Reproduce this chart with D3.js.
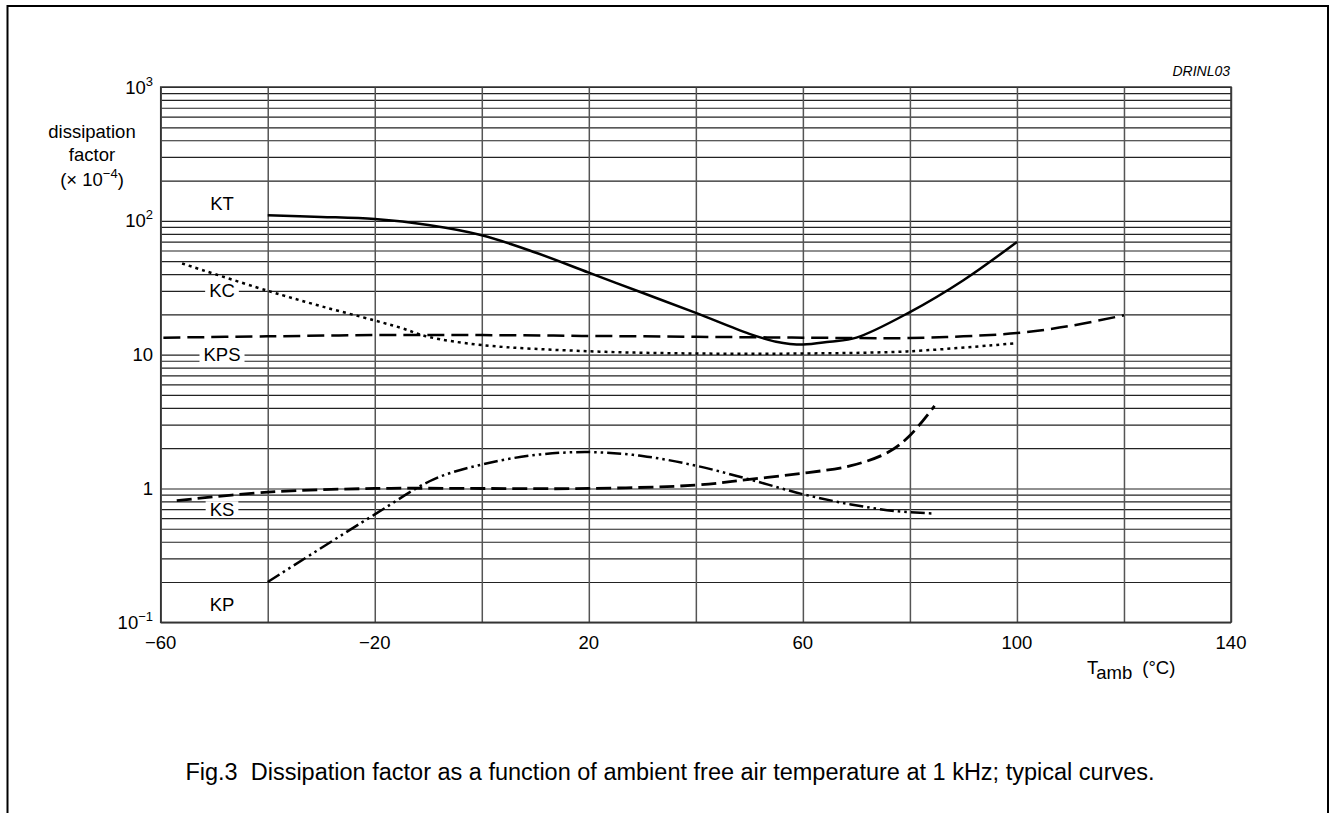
<!DOCTYPE html>
<html>
<head>
<meta charset="utf-8">
<script src="https://cdn.jsdelivr.net/npm/d3@7"></script>
<style>
  body { margin: 0; background: #fff; }
  svg { display: block; font-family: "Liberation Sans", Arial, sans-serif; }
</style>
</head>
<body>
<div id="chart"></div>
<script>
// temperatures (°C) and dissipation factor (x 10^-4)
var ktTemp = [-40, -30, -20, -10, 0, 10, 20, 30, 40, 50, 55, 60, 65, 70, 80, 90, 100];
var ktVal  = [110, 107, 103, 93, 78, 58, 41, 29, 20.5, 14.3, 12.5, 11.9, 12.5, 13.4, 20.8, 36, 69.5];

var kcTemp = [-56, -40, -30, -20, -15, -10, 0, 20, 40, 60, 80, 100];
var kcVal  = [48, 30, 23, 18, 15.8, 13.6, 11.8, 10.6, 10.2, 10.2, 10.6, 12.2];

var kpsTemp = [-59.5, -40, -20, 0, 20, 40, 60, 80, 90, 100, 110, 120];
var kpsVal  = [13.4, 13.7, 14, 14, 13.8, 13.6, 13.4, 13.3, 13.7, 14.5, 16.4, 19.7];

var ksTemp = [-57, -40, -20, 0, 20, 40, 50, 60, 69, 76, 80, 84.6];
var ksVal  = [0.81, 0.94, 1.0, 1.0, 1.0, 1.06, 1.17, 1.3, 1.48, 1.87, 2.49, 4.14];

var kpTemp = [-40, -20, -9, 0, 10, 20, 30, 40, 50, 60, 69, 77, 84.4];
var kpVal  = [0.2, 0.64, 1.17, 1.51, 1.78, 1.87, 1.75, 1.48, 1.17, 0.906, 0.76, 0.68, 0.65];

var xTicks = [-60, -40, -20, 0, 20, 40, 60, 80, 100, 120, 140];
var xLabels = [-60, -20, 20, 60, 100, 140];
var decades = [0.1, 1, 10, 100, 1000];
var decadeLabels = [["10", "\u22121"], ["1", null], ["10", null], ["10", "2"], ["10", "3"]];

var curveLabels = [
    {name: "KT", value: 135},
    {name: "KC", value: 30},
    {name: "KPS", value: 10},
    {name: "KS", value: 0.7},
    {name: "KP", value: 0.135}
];

var W = 1329, H = 813;
var mLeft = 160.7, mRight = 1231, mTop = 87, mBottom = 622.3;
var fs = 18.5;

var svg = d3.select("#chart").append("svg")
    .attr("width", W)
    .attr("height", H);

// outer frame (open at the bottom of the picture)
svg.append("rect")
    .attr("x", 7.5).attr("y", 6)
    .attr("width", 1320.5).attr("height", 900)
    .attr("fill", "none")
    .attr("stroke", "#000")
    .attr("stroke-width", 2);

var x = d3.scaleLinear().domain([-60, 140]).range([mLeft, mRight]);
var y = d3.scaleLog().domain([0.1, 1000]).range([mBottom, mTop]);

// all minor log gridlines
var yGrid = [];
decades.slice(0, 4).forEach(function(d) {
    for (var k = 1; k <= 9; k++) yGrid.push(+(k * d).toPrecision(3));
});
yGrid.push(1000);

svg.append("g")
    .attr("transform", "translate(" + mLeft + ",0)")
    .call(d3.axisLeft(y).tickValues(yGrid).tickSize(-(mRight - mLeft)).tickFormat(""))
    .call(function(g) {
        g.select(".domain").remove();
        g.selectAll("line").attr("stroke", "#222").attr("stroke-width", 1.2);
    });

svg.append("g")
    .attr("transform", "translate(0," + mBottom + ")")
    .call(d3.axisBottom(x).tickValues(xTicks).tickSize(-(mBottom - mTop)).tickFormat(""))
    .call(function(g) {
        g.select(".domain").remove();
        g.selectAll("line").attr("stroke", "#555").attr("stroke-width", 1.5);
    });

// plot frame
svg.append("rect")
    .attr("x", mLeft).attr("y", mTop)
    .attr("width", mRight - mLeft).attr("height", mBottom - mTop)
    .attr("fill", "none")
    .attr("stroke", "#333")
    .attr("stroke-width", 1.5);

// y tick labels
decades.forEach(function(d, i) {
    var t = svg.append("text")
        .attr("x", 153)
        .attr("y", y(d) + 6.5)
        .attr("text-anchor", "end")
        .attr("font-size", fs);
    t.append("tspan").text(decadeLabels[i][0]);
    if (decadeLabels[i][1]) {
        t.append("tspan").attr("dy", -8).attr("font-size", 13).text(decadeLabels[i][1]);
    }
});

// x tick labels
svg.selectAll(".xlab")
    .data(xLabels)
    .join("text")
    .attr("class", "xlab")
    .attr("x", function(d) { return x(d); })
    .attr("y", 649)
    .attr("text-anchor", "middle")
    .attr("font-size", fs)
    .text(function(d) { return d < 0 ? "\u2212" + Math.abs(d) : d; });

// y title
var yt = svg.append("g").attr("font-size", fs).attr("text-anchor", "middle");
yt.append("text").attr("x", 92).attr("y", 138).text("dissipation");
yt.append("text").attr("x", 92).attr("y", 161).text("factor");
var y3 = yt.append("text").attr("x", 92).attr("y", 186);
y3.append("tspan").text("(\u00d7 10");
y3.append("tspan").attr("dy", -8).attr("font-size", 13).text("\u22124");
y3.append("tspan").attr("dy", 8).text(")");

// x title
var xt = svg.append("text").attr("x", 1087).attr("y", 674).attr("font-size", fs);
xt.append("tspan").text("T");
xt.append("tspan").attr("dy", 5).text("amb");
xt.append("tspan").attr("dy", -5).attr("dx", 10).text("(\u00b0C)");

svg.append("text")
    .attr("x", 1230).attr("y", 76)
    .attr("text-anchor", "end")
    .attr("font-size", 14)
    .attr("font-style", "italic")
    .text("DRINL03");

// curve name labels, cut out of the grid
var lab = svg.selectAll(".clab")
    .data(curveLabels)
    .join("g")
    .attr("class", "clab")
    .attr("transform", function(d) { return "translate(222," + y(d.value) + ")"; });
lab.append("text")
    .attr("text-anchor", "middle")
    .attr("y", 6.5)
    .attr("font-size", fs)
    .text(function(d) { return d.name; });
lab.each(function() {
    var g = d3.select(this);
    var b = g.select("text").node().getBBox();
    g.insert("rect", "text")
        .attr("x", b.x - 4).attr("y", -8)
        .attr("width", b.width + 8).attr("height", 16)
        .attr("fill", "#fff");
});

var line = d3.line()
    .x(function(d) { return x(d[0]); })
    .y(function(d) { return y(d[1]); })
    .curve(d3.curveCatmullRom.alpha(0.5));

function drawCurve(ts, vs, dash, width) {
    svg.append("path")
        .datum(d3.zip(ts, vs))
        .attr("d", line)
        .attr("fill", "none")
        .attr("stroke", "#000")
        .attr("stroke-width", width)
        .attr("stroke-dasharray", dash);
}

drawCurve(ktTemp, ktVal, null, 2.5);
drawCurve(kcTemp, kcVal, "3,4", 2.5);
drawCurve(kpsTemp, kpsVal, "17,7", 2.5);
drawCurve(ksTemp, ksVal, "15,6", 2.8);
drawCurve(kpTemp, kpVal, "14,4,2.5,4,2.5,4", 2.5);

// caption
svg.append("text")
    .attr("x", 670).attr("y", 780)
    .attr("text-anchor", "middle")
    .attr("font-size", 23.5)
    .style("white-space", "pre")
    .text("Fig.3  Dissipation factor as a function of ambient free air temperature at 1 kHz; typical curves.");
</script>
</body>
</html>
